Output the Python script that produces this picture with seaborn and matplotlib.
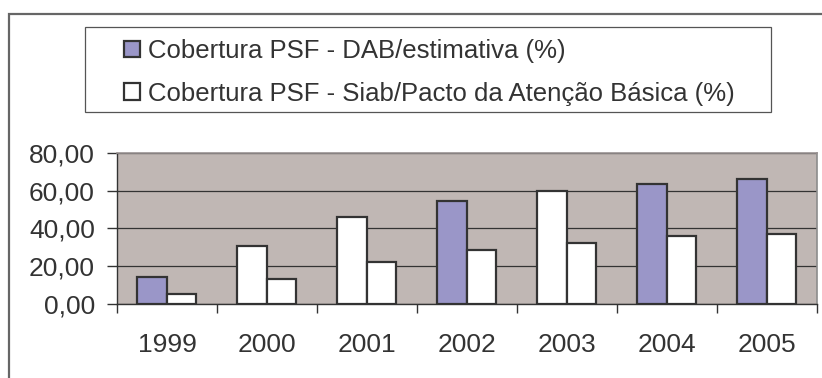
import matplotlib
matplotlib.use("Agg")
import matplotlib.pyplot as plt
from matplotlib.patches import Patch, Rectangle
from matplotlib.ticker import FuncFormatter, FixedLocator
import numpy as np
import pandas as pd
import seaborn as sns

# Série histórica da cobertura do PSF
anos = ["1999", "2000", "2001", "2002", "2003", "2004", "2005"]
dab_estimativa = [14.4, 30.8, 46.0, 54.5, 60.0, 63.5, 66.3]
siab_pacto = [5.3, 13.4, 22.0, 28.4, 32.4, 36.1, 36.9]
serie_dab = "Cobertura PSF - DAB/estimativa (%)"
serie_siab = "Cobertura PSF - Siab/Pacto da Atenção Básica (%)"
ticks_y = [0, 20, 40, 60, 80]

ROXO = "#9A96C8"
BRANCO = "#FFFFFF"
# preenchimento individual das barras da série DAB, ano a ano
cores_dab = [ROXO, BRANCO, BRANCO, ROXO, BRANCO, ROXO, ROXO]

sns.set_style("white")
plt.rcParams["font.family"] = ["Liberation Sans", "DejaVu Sans"]
plt.rcParams["text.color"] = "#333333"

df = pd.DataFrame({
    "ano": anos * 2,
    "valor": dab_estimativa + siab_pacto,
    "serie": [serie_dab] * len(anos) + [serie_siab] * len(anos),
})

W, H = 822, 378
fig = plt.figure(figsize=(W / 100, H / 100), dpi=100)
fig.patch.set_facecolor("white")

x0, x1 = 117, 816.7
y0, y1 = 152.7, 304
ax = fig.add_axes([x0 / W, 1 - y1 / H, (x1 - x0) / W, (y1 - y0) / H])
ax.set_facecolor("#C0B7B4")

sns.barplot(data=df, x="ano", y="valor", hue="serie",
            palette=[ROXO, BRANCO], edgecolor="#333333", linewidth=1.6,
            width=0.59, gap=0, saturation=1, legend=False, ax=ax)

# barras da primeira série: cor por ano
dab_bars = ax.containers[0]
for bar, cor in zip(dab_bars, cores_dab):
    bar.set_facecolor(cor)

ax.set_xlim(-0.5, len(anos) - 0.5)
ax.set_ylim(0, 80)
ax.set_xlabel("")
ax.set_ylabel("")

ax.yaxis.set_major_locator(FixedLocator(ticks_y))
ax.yaxis.set_major_formatter(FuncFormatter(lambda v, _: f"{v:.2f}".replace(".", ",")))
ax.grid(axis="y", color="#333333", linewidth=0.9)
ax.grid(axis="x", visible=False)
ax.set_axisbelow(True)

ax.xaxis.set_minor_locator(FixedLocator(np.arange(-0.5, len(anos), 1.0)))
ax.tick_params(axis="x", which="major", length=0, pad=21, labelsize=19, labelcolor="#333333")
ax.tick_params(axis="x", which="minor", length=6.5, width=1, color="#333333", direction="out", bottom=True)
ax.tick_params(axis="y", which="major", length=7, width=1, color="#333333", direction="out",
               pad=9, labelsize=19, labelcolor="#333333", left=True)

for lado in ("left", "bottom"):
    ax.spines[lado].set_color("#333333")
    ax.spines[lado].set_linewidth(1.0)
ax.spines["top"].set_color("#9A9292")
ax.spines["right"].set_color("#8C8C8C")
ax.spines["top"].set_linewidth(1.2)
ax.spines["right"].set_linewidth(1.2)

# moldura externa do gráfico
fig.patches.append(Rectangle((9 / W, -0.1), 1.2, 1 - 14 / H + 0.1, transform=fig.transFigure,
                             fill=False, edgecolor="#666666", linewidth=1.6))

# caixa da legenda
fig.patches.append(Rectangle((85 / W, 1 - 112 / H), (771 - 85) / W, (112 - 27) / H,
                             transform=fig.transFigure, facecolor="white",
                             edgecolor="#555555", linewidth=0.9))

handles = [Patch(facecolor=ROXO, edgecolor="#333333", linewidth=1.6),
           Patch(facecolor=BRANCO, edgecolor="#333333", linewidth=1.6)]
leg = fig.legend(handles, [serie_dab, serie_siab], loc="upper left",
                 bbox_to_anchor=(124 / W, 1 - 39 / H), frameon=False,
                 borderpad=0, borderaxespad=0, fontsize=18.5,
                 handlelength=0.62, handleheight=0.62, handletextpad=0.3,
                 labelspacing=0.72)
for t in leg.get_texts():
    t.set_color("#333333")

fig.savefig("out.png", dpi=100)
